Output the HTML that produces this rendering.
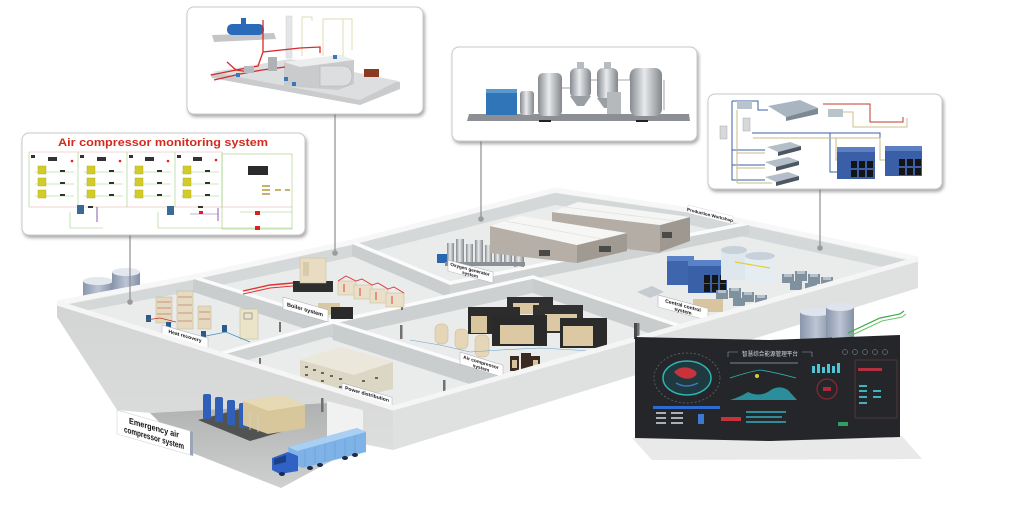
<!DOCTYPE html>
<html><head><meta charset="utf-8"><style>
html,body{margin:0;padding:0;background:#fff;}
svg{display:block;}
text{font-family:"Liberation Sans","Noto Sans CJK SC",sans-serif;}
</style></head><body>
<svg width="1024" height="522" viewBox="0 0 1024 522" xmlns="http://www.w3.org/2000/svg">
<defs>
 <filter id="sh" x="-5%" y="-8%" width="112%" height="125%">
  <feDropShadow dx="1.5" dy="2.5" stdDeviation="1.6" flood-color="#666" flood-opacity="0.55"/>
 </filter>
 <linearGradient id="pad" x1="0" y1="0" x2="0" y2="1"><stop offset="0" stop-color="#b0b1b1"/><stop offset="1" stop-color="#cfd0d0"/></linearGradient>
 <linearGradient id="silver" x1="0" x2="1"><stop offset="0" stop-color="#868b8f"/><stop offset="0.45" stop-color="#e8eaec"/><stop offset="1" stop-color="#82878b"/></linearGradient>
 <linearGradient id="tank" x1="0" x2="1"><stop offset="0" stop-color="#8995ab"/><stop offset="0.5" stop-color="#bcc5d4"/><stop offset="1" stop-color="#8491a6"/></linearGradient>
 <linearGradient id="ffl" x1="0" y1="0" x2="0" y2="1"><stop offset="0" stop-color="#d3d4d4"/><stop offset="1" stop-color="#dcdddd"/></linearGradient>
</defs>

<!-- tanks behind building (left) -->
<g>
 <rect x="83" y="281" width="30" height="16" fill="url(#tank)"/>
 <ellipse cx="98" cy="281" rx="15" ry="4" fill="#e3e7ee"/>
 <rect x="112" y="272" width="28" height="18" fill="url(#tank)"/>
 <ellipse cx="126" cy="272" rx="14" ry="4" fill="#e3e7ee"/>
</g>

<!-- building floor -->
<polygon points="57,303 193,277 352,242 555,190 690,210 918,259 680,326 393,408" fill="#eaecec"/>

<!-- back wall inner faces -->
<polygon points="60,306 193,280 352,245 555,193 555,205 352,257 193,291 62,315" fill="#d5d8d8"/>
<polygon points="555,193 690,213 915,262 910,273 690,225 555,205" fill="#d5d8d8"/>

<!-- partition faces -->
<polygon points="352,242 450,283 450,298 352,256" fill="#cacece"/>
<polygon points="450,283 749,223 749,235 450,296" fill="#d0d3d3"/>
<polygon points="193,277 333,321 333,338 193,292" fill="#c9cdcd"/>
<polygon points="333,322 533,277 533,293 333,338" fill="#cdd0d0"/>
<polygon points="533,277 680,326 680,344 533,293" fill="#c8cccc"/>
<polygon points="223,353 333,322 333,336 223,367" fill="#cfd2d2"/>
<polygon points="333,322 507,377 507,396 333,340" fill="#c9cdcd"/>

<!-- wall tops -->
<g stroke="#fbfbfb" stroke-width="3.5" stroke-linecap="round" fill="none">
 <line x1="352" y1="242" x2="450" y2="283"/>
 <line x1="450" y1="283" x2="749" y2="223"/>
 <line x1="193" y1="277" x2="333" y2="321"/>
 <line x1="333" y1="322" x2="533" y2="277"/>
 <line x1="533" y1="277" x2="680" y2="326"/>
 <line x1="223" y1="353" x2="333" y2="322"/>
 <line x1="333" y1="322" x2="507" y2="377"/>
</g>
<polyline points="57,303 193,277 352,242 555,190 690,210 918,259" fill="none" stroke="#f7f7f7" stroke-width="5" stroke-linejoin="round"/>

<!-- posts -->
<g fill="#6f7272">
 <rect x="279" y="322" width="2" height="10"/>
 <rect x="259" y="358" width="2" height="8"/>
 <rect x="400" y="325" width="2.5" height="14"/>
 <rect x="637" y="323" width="2.5" height="14"/>
 <rect x="443" y="380" width="2.5" height="13"/>
 <rect x="401" y="300" width="2" height="10"/>
</g>

<!-- Heat recovery equipment -->
<g>
 <rect x="156" y="297" width="16" height="26" fill="#e4d9bf" stroke="#c2b48f" stroke-width="0.5"/>
 <rect x="177" y="291" width="16" height="38" fill="#e6dbc1" stroke="#c2b48f" stroke-width="0.5"/>
 <rect x="198" y="306" width="13" height="23" fill="#e4d9bf" stroke="#c2b48f" stroke-width="0.5"/>
 <g stroke="#b8664f" stroke-width="0.6">
  <line x1="157" y1="302" x2="171" y2="302"/><line x1="157" y1="308" x2="171" y2="308"/><line x1="157" y1="314" x2="171" y2="314"/>
  <line x1="178" y1="297" x2="192" y2="297"/><line x1="178" y1="305" x2="192" y2="305"/><line x1="178" y1="313" x2="192" y2="313"/><line x1="178" y1="321" x2="192" y2="321"/>
  <line x1="199" y1="312" x2="210" y2="312"/><line x1="199" y1="319" x2="210" y2="319"/>
 </g>
 <rect x="240" y="309" width="18" height="30" fill="#ebe4c8" stroke="#c8bd98" stroke-width="0.6"/>
 <rect x="244" y="313" width="8" height="6" fill="none" stroke="#777" stroke-width="0.6"/>
 <g fill="#2c5a8a">
  <rect x="146" y="315" width="5" height="7"/><rect x="166" y="322" width="5" height="7"/>
  <rect x="201" y="331" width="5" height="6"/><rect x="222" y="325" width="5" height="7"/>
 </g>
 <polyline points="206,336 226,332 250,342" fill="none" stroke="#4a90c0" stroke-width="0.8"/>
 <polyline points="146,320 160,318 176,322" fill="none" stroke="#c0392b" stroke-width="0.8"/>
</g>

<!-- Boiler equipment -->
<g>
 <polyline points="243,291 270,285 293,283" fill="none" stroke="#d33" stroke-width="1.4"/>
 <polyline points="243,294 270,288 293,286" fill="none" stroke="#d33" stroke-width="1"/>
 <rect x="293" y="281" width="40" height="11" fill="#2e2e2e"/>
 <rect x="300" y="258" width="26" height="25" fill="#e8dcc3" stroke="#c7b996" stroke-width="0.5"/>
 <rect x="303" y="262" width="6" height="14" fill="#d8cba9"/>
 <g fill="#eadfc8" stroke="#c9b991" stroke-width="0.5">
  <rect x="338" y="281" width="18" height="14"/>
  <rect x="354" y="285" width="18" height="14"/>
  <rect x="370" y="289" width="18" height="14"/>
  <rect x="386" y="293" width="18" height="14"/>
 </g>
 <g stroke="#d33" stroke-width="0.9" fill="none">
  <polyline points="338,281 346,276 356,281 362,279 372,285 378,283 388,289 394,287 404,293"/>
  <line x1="344" y1="284" x2="344" y2="292"/><line x1="360" y1="288" x2="360" y2="296"/>
  <line x1="376" y1="292" x2="376" y2="300"/><line x1="392" y1="296" x2="392" y2="304"/>
 </g>
 <rect x="318" y="303" width="22" height="12" fill="#d8c9a5"/>
 <rect x="331" y="307" width="22" height="12" fill="#2b2b2b"/>
</g>

<!-- Oxygen generator equipment -->
<g>
 <rect x="437" y="254" width="10" height="9" fill="#2a66b0"/>
 <g fill="url(#silver)">
  <rect x="447" y="243" width="7" height="20"/><rect x="456" y="239" width="8" height="24"/>
  <rect x="466" y="244" width="7" height="20"/><rect x="475" y="240" width="8" height="24"/>
  <rect x="485" y="245" width="7" height="21"/><rect x="494" y="241" width="8" height="25"/>
  <rect x="504" y="247" width="8" height="19"/><rect x="514" y="250" width="10" height="17"/>
 </g>
 <rect x="445" y="262" width="80" height="4" fill="#8b9096"/>
</g>

<!-- Production workshop warehouses -->
<g>
 <polygon points="552,212 660,225 660,253 552,240" fill="#b3ada5"/>
 <polygon points="660,225 690,217 690,241 660,252" fill="#9e9891"/>
 <polygon points="552,212 578,202 690,217 660,225" fill="#f5f5f4"/>
 <line x1="565" y1="207" x2="675" y2="221" stroke="#e2e2e0" stroke-width="0.8"/>
 <rect x="662" y="232" width="10" height="6" fill="#4a4a48"/>
 <polygon points="490,226 577,245 577,263 490,253" fill="#b5afa7"/>
 <polygon points="577,245 627,233 627,251 577,263" fill="#a09a93"/>
 <polygon points="490,226 520,216 627,233 577,245" fill="#f6f6f5"/>
 <line x1="505" y1="221" x2="602" y2="239" stroke="#e2e2e0" stroke-width="0.8"/>
 <rect x="539" y="250" width="11" height="6" fill="#4a4a48"/>
 <rect x="599" y="246" width="12" height="6" fill="#4a4a48"/>
</g>

<!-- Central control equipment -->
<g>
 <polygon points="637,292 652,286 664,292 650,298" fill="#c5cbd0"/>
 <rect x="667" y="256" width="27" height="29" fill="#3e66ad"/>
 <rect x="667" y="256" width="27" height="5" fill="#5b82c6"/>
 <rect x="688" y="260" width="39" height="33" fill="#3a60a8"/>
 <rect x="688" y="260" width="39" height="6" fill="#5a82c8"/>
 <g fill="#151515">
  <rect x="704" y="275" width="6" height="8"/><rect x="712" y="275" width="6" height="8"/><rect x="720" y="275" width="6" height="8"/>
  <rect x="704" y="284" width="6" height="8"/><rect x="712" y="284" width="6" height="8"/><rect x="720" y="284" width="6" height="8"/>
 </g>
 <rect x="721" y="250" width="26" height="30" fill="#dfe7ee"/>
 <rect x="745" y="256" width="30" height="27" fill="#e6edf2"/>
 <ellipse cx="734" cy="250" rx="13" ry="4" fill="#c6d1da"/>
 <ellipse cx="760" cy="256" rx="15" ry="4" fill="#c6d1da"/>
 <line x1="735" y1="262" x2="770" y2="268" stroke="#e0d030" stroke-width="1.2"/>
 <g fill="#7f909e">
  <rect x="782" y="274" width="12" height="9"/><rect x="795" y="271" width="12" height="10"/><rect x="808" y="274" width="12" height="10"/>
  <rect x="821" y="277" width="12" height="10"/><rect x="790" y="281" width="12" height="9"/><rect x="805" y="283" width="12" height="8"/>
  <rect x="716" y="290" width="12" height="9"/><rect x="729" y="288" width="12" height="10"/><rect x="742" y="292" width="12" height="10"/>
  <rect x="755" y="295" width="12" height="9"/><rect x="733" y="298" width="12" height="8"/>
 </g>
 <g fill="#b5c2cc">
  <rect x="784" y="274" width="8" height="3"/><rect x="797" y="271" width="8" height="3"/><rect x="810" y="274" width="8" height="3"/><rect x="823" y="277" width="8" height="3"/>
  <rect x="718" y="290" width="8" height="3"/><rect x="731" y="288" width="8" height="3"/><rect x="744" y="292" width="8" height="3"/><rect x="757" y="295" width="8" height="3"/>
 </g>
 <rect x="693" y="299" width="30" height="13" fill="#d8c59f"/>
</g>

<!-- Air compressor equipment -->
<g>
 <rect x="507" y="297" width="46" height="17" fill="#2f2f2f"/><rect x="513" y="303" width="26" height="11" fill="#dac7a1"/>
 <rect x="533" y="305" width="50" height="28" fill="#303030"/><rect x="545" y="314" width="32" height="17" fill="#dcc9a3"/>
 <rect x="468" y="307" width="52" height="27" fill="#2c2c2c"/><rect x="471" y="316" width="16" height="17" fill="#d9c69f"/>
 <rect x="492" y="315" width="55" height="31" fill="#2a2a2a"/><rect x="500" y="325" width="34" height="19" fill="#dcc9a3"/>
 <rect x="560" y="318" width="47" height="30" fill="#2b2b2b"/><rect x="563" y="326" width="30" height="20" fill="#dcc9a3"/>
 <g fill="#e6d6b8" stroke="#c9b48c" stroke-width="0.5">
  <rect x="435" y="324" width="13" height="20" rx="5"/>
  <rect x="455" y="329" width="13" height="20" rx="5"/>
  <rect x="475" y="335" width="14" height="22" rx="5"/>
 </g>
 <g fill="#3a2a22">
  <rect x="510" y="356" width="9" height="15"/><rect x="521" y="353" width="10" height="16"/><rect x="531" y="356" width="9" height="14"/>
 </g>
 <rect x="512" y="360" width="5" height="8" fill="#d6c39c"/><rect x="533" y="360" width="5" height="8" fill="#d6c39c"/>
 <polyline points="410,340 440,345 470,352 500,350 540,348 610,352" fill="none" stroke="#6aa0c8" stroke-width="0.6"/>
</g>

<!-- Power distribution cabinets -->
<g>
 <polygon points="300,360 340,347 393,362 393,389 352,399 300,381" fill="#dcd6c5"/>
 <polygon points="300,360 340,347 393,362 354,375" fill="#ebe7db"/>
 <g fill="#6b665c">
  <rect x="305" y="366" width="3" height="2"/><rect x="313" y="369" width="3" height="2"/><rect x="321" y="372" width="3" height="2"/>
  <rect x="330" y="375" width="3" height="2"/><rect x="339" y="378" width="3" height="2"/><rect x="305" y="374" width="3" height="2"/>
  <rect x="321" y="380" width="3" height="2"/><rect x="339" y="386" width="3" height="2"/><rect x="362" y="380" width="3" height="2"/>
  <rect x="375" y="377" width="3" height="2"/>
 </g>
 <line x1="300" y1="383" x2="340" y2="397" stroke="#6aa0c8" stroke-width="0.6"/>
</g>

<!-- room labels -->
<g font-weight="bold" fill="#111" text-anchor="middle">
 <g transform="translate(162,325) skewY(16)">
  <rect width="46" height="14" fill="#fff" stroke="#aab" stroke-width="0.5"/>
  <text x="23" y="6" font-size="5">Heat recovery</text><text x="23" y="12" font-size="5">system</text>
 </g>
 <g transform="translate(283,297) skewY(16)">
  <rect width="45" height="12" fill="#fff" stroke="#aab" stroke-width="0.5"/>
  <text x="22" y="8" font-size="5.5">Boiler system</text>
 </g>
 <g transform="translate(448,260) skewY(15)">
  <rect width="45" height="11" fill="#fff" stroke="#aab" stroke-width="0.5"/>
  <text x="22" y="5" font-size="4.6">Oxygen generator</text><text x="22" y="10" font-size="4.6">system</text>
 </g>
 <g transform="translate(688,205) skewY(14)">
  <rect width="45" height="8" fill="#fff" stroke="#ccd" stroke-width="0.4"/>
  <text x="22" y="6" font-size="4.4">Production Workshop</text>
 </g>
 <g transform="translate(658,295) skewY(15)">
  <rect width="50" height="12" fill="#fff" stroke="#aab" stroke-width="0.5"/>
  <text x="25" y="5.5" font-size="5">Central control</text><text x="25" y="11" font-size="5">system</text>
 </g>
 <g transform="translate(460,352) skewY(17)">
  <rect width="43" height="12" fill="#fff" stroke="#aab" stroke-width="0.5"/>
  <text x="21" y="5.5" font-size="4.8">Air compressor</text><text x="21" y="11" font-size="4.8">system</text>
 </g>
 <g transform="translate(342,383) skewY(16)">
  <rect width="50" height="12" fill="#fff" stroke="#aab" stroke-width="0.5"/>
  <text x="25" y="5.5" font-size="5">Power distribution</text><text x="25" y="11" font-size="5">system</text>
 </g>
</g>

<!-- outer front faces -->
<polygon points="393,408 918,259 918,288 393,450" fill="#dfe0e0"/>
<polygon points="57,303 393,408 393,450 363,444 327,437 327,403 150,413 117,410 57,317" fill="url(#ffl)"/>
<polyline points="57,303 393,408 918,259" fill="none" stroke="#f5f5f5" stroke-width="5" stroke-linejoin="round"/>
<!-- bay -->
<polygon points="327,401 363,410 363,444 327,437" fill="#f1f1f1"/>
<polygon points="150,413 327,403 327,437 363,444 281,488 190,452" fill="url(#pad)"/>
<rect x="321" y="398" width="2.5" height="14" fill="#6f7272"/>

<!-- emergency unit -->
<g>
 <polygon points="198,420 255,405 305,425 250,441" fill="#515353"/>
 <g fill="#2f5fb8">
  <rect x="203" y="394" width="8" height="25" rx="2"/><rect x="215" y="397" width="8" height="25" rx="2"/>
  <rect x="227" y="400" width="8" height="25" rx="2"/><rect x="239" y="403" width="8" height="25" rx="2"/>
 </g>
 <polygon points="243,401 282,395 305,405 305,428 268,434 243,425" fill="#d8c79a"/>
 <polygon points="243,401 282,395 305,405 268,411" fill="#e6d9b4"/>
 <g stroke="#cfd3d6" stroke-width="0.8"><line x1="250" y1="412" x2="250" y2="430"/><line x1="258" y1="414" x2="258" y2="432"/></g>
</g>

<!-- truck -->
<g>
 <polygon points="288,447 357,428 366,432 366,452 303,468 290,463" fill="#7fb3e8"/>
 <polygon points="288,447 357,428 366,432 297,451" fill="#a9cff2"/>
 <g stroke="#5e95d0" stroke-width="0.5">
  <line x1="305" y1="450" x2="305" y2="466"/><line x1="315" y1="447" x2="315" y2="463"/><line x1="325" y1="444" x2="325" y2="461"/>
  <line x1="335" y1="442" x2="335" y2="458"/><line x1="345" y1="439" x2="345" y2="456"/><line x1="355" y1="436" x2="355" y2="453"/>
 </g>
 <polygon points="272,458 288,452 298,456 298,471 280,474 272,470" fill="#2f62c4"/>
 <polygon points="274,459 286,455 286,462 274,465" fill="#1d3f85"/>
 <g fill="#1d2a4a">
  <ellipse cx="282" cy="474" rx="3" ry="2"/><ellipse cx="310" cy="468" rx="3" ry="2"/><ellipse cx="320" cy="465" rx="3" ry="2"/>
  <ellipse cx="345" cy="458" rx="3" ry="2"/><ellipse cx="355" cy="455" rx="3" ry="2"/>
 </g>
</g>

<!-- Emergency label -->
<g transform="translate(117,410) skewY(16)" font-weight="bold" fill="#111" text-anchor="middle">
 <rect width="76" height="24" fill="#fff" stroke="#c4c8cc" stroke-width="0.5"/>
 <rect x="73" y="0" width="3" height="24" fill="#9aa6b6"/>
 <text x="37" y="10" font-size="8.5" textLength="50" lengthAdjust="spacingAndGlyphs">Emergency air</text>
 <text x="37" y="20" font-size="8.5" textLength="60" lengthAdjust="spacingAndGlyphs">compressor system</text>
</g>

<!-- tanks near screen + green pipe -->
<g>
 <rect x="800" y="312" width="32" height="34" fill="url(#tank)"/>
 <ellipse cx="816" cy="312" rx="16" ry="4" fill="#dfe4ec"/>
 <rect x="826" y="307" width="28" height="30" fill="url(#tank)"/>
 <ellipse cx="840" cy="307" rx="14" ry="4" fill="#dfe4ec"/>
 <polyline points="848,333 880,318 900,314 904,311" fill="none" stroke="#3aa845" stroke-width="1.2"/>
 <polyline points="850,336 882,321 902,317 906,314" fill="none" stroke="#6cc36f" stroke-width="1"/>
</g>

<!-- screen -->
<polygon points="632,438 902,436 922,459 652,460" fill="#e9e9e9"/>
<rect x="634" y="323" width="3" height="16" fill="#4a4a4a"/>
<g>
 <polygon points="635,337 770,340 900,335 900,437 770,441 635,438" fill="#25262a"/>
 <text x="770" y="356" font-size="6" fill="#d2d9de" text-anchor="middle" textLength="56" lengthAdjust="spacingAndGlyphs">智慧综合能源管理平台</text>
 <path d="M728 352 h10 M802 352 h10 M728 352 v5 M812 352 v5" stroke="#8fa0ac" stroke-width="0.6" fill="none"/>
 <g fill="none" stroke="#8f9ba6" stroke-width="0.5"><circle cx="845" cy="352" r="2.5"/><circle cx="855" cy="352" r="2.5"/><circle cx="865" cy="352" r="2.5"/><circle cx="875" cy="352" r="2.5"/><circle cx="885" cy="352" r="2.5"/></g>
 <ellipse cx="687" cy="378" rx="33" ry="25" fill="none" stroke="#5d6670" stroke-width="0.8" stroke-dasharray="2 2"/>
 <ellipse cx="687" cy="378" rx="24" ry="17" fill="#1e3a40" stroke="#2fb3b0" stroke-width="1.5"/>
 <path d="M674 372 q8 -8 20 -2 q6 4 -2 8 q-10 3 -18 -6z" fill="#c8323a"/>
 <path d="M676 383 q10 6 22 0" fill="none" stroke="#3b78c0" stroke-width="1.5"/>
 <rect x="730" y="362" width="68" height="2" fill="#50585f"/>
 <path d="M730 378 q18 -6 30 -8 q14 2 36 8" fill="none" stroke="#2fb3b0" stroke-width="0.8"/>
 <circle cx="757" cy="376" r="2" fill="#d6d22a"/>
 <path d="M730 400 q10 -3 18 -8 q10 5 20 0 q10 -8 20 -2 l9 10z" fill="#2a8f9a"/>
 <g fill="#4fc4d4"><rect x="812" y="366" width="3" height="7"/><rect x="817" y="364" width="3" height="9"/><rect x="822" y="367" width="3" height="6"/><rect x="827" y="364" width="3" height="9"/><rect x="832" y="366" width="3" height="7"/><rect x="837" y="363" width="3" height="10"/></g>
 <circle cx="827" cy="389" r="10" fill="none" stroke="#8a2a30" stroke-width="1.2"/>
 <rect x="823" y="387" width="8" height="4" fill="#b0283a"/>
 <rect x="855" y="360" width="42" height="58" fill="none" stroke="#6a4040" stroke-width="0.6"/>
 <rect x="858" y="368" width="24" height="3" fill="#b03040"/>
 <g fill="#3fb3c0"><rect x="859" y="385" width="8" height="2"/><rect x="859" y="390" width="8" height="2"/><rect x="873" y="390" width="8" height="2"/><rect x="859" y="396" width="8" height="2"/><rect x="873" y="396" width="8" height="2"/><rect x="859" y="402" width="8" height="2"/></g>
 <rect x="653" y="406" width="67" height="3" fill="#2f6ad0"/>
 <g fill="#a9b0b6"><rect x="656" y="412" width="10" height="2"/><rect x="671" y="412" width="12" height="2"/><rect x="656" y="417" width="10" height="2"/><rect x="671" y="417" width="12" height="2"/><rect x="656" y="422" width="10" height="2"/><rect x="671" y="422" width="12" height="2"/></g>
 <rect x="698" y="414" width="6" height="10" fill="#3a7ad0"/>
 <rect x="721" y="417" width="20" height="4" fill="#c8323a"/>
 <g fill="#2f8a9a"><rect x="746" y="411" width="40" height="2"/><rect x="746" y="416" width="36" height="2"/><rect x="746" y="421" width="40" height="2"/></g>
 <rect x="838" y="422" width="10" height="4" fill="#2fa060"/>
</g>

<!-- connectors -->
<g stroke="#8e8e8e" stroke-width="1.2">
 <line x1="130" y1="235" x2="130" y2="302"/>
 <line x1="335" y1="114" x2="335" y2="252"/>
 <line x1="481" y1="141" x2="481" y2="219"/>
 <line x1="820" y1="189" x2="820" y2="248"/>
</g>
<g fill="#9b9b9b">
 <circle cx="130" cy="302" r="2.8"/><circle cx="335" cy="253" r="2.8"/><circle cx="481" cy="219" r="2.8"/><circle cx="820" cy="248" r="2.8"/>
</g>

<!-- Callout 1: Air compressor monitoring -->
<g>
 <rect x="22" y="133" width="283" height="102" rx="7" fill="#fff" stroke="#c8c8c8" stroke-width="1" filter="url(#sh)"/>
 <text x="163" y="146" font-size="11" font-weight="bold" fill="#d42a1e" text-anchor="middle" textLength="210" lengthAdjust="spacingAndGlyphs">Air compressor monitoring system</text>
 <g fill="none" stroke-width="0.6">
  <line x1="29" y1="152" x2="222" y2="152" stroke="#e3b6b0"/>
  <g stroke="#9bcf7a">
   <line x1="29" y1="152" x2="29" y2="207"/><line x1="78" y1="152" x2="78" y2="207"/><line x1="127" y1="152" x2="127" y2="207"/><line x1="175" y1="152" x2="175" y2="207"/><line x1="222" y1="152" x2="222" y2="207"/>
   <rect x="222" y="154" width="70" height="75"/>
   <line x1="70" y1="228" x2="103" y2="228"/><line x1="158" y1="228" x2="292" y2="228"/>
   <line x1="70" y1="212" x2="70" y2="228"/><line x1="158" y1="212" x2="158" y2="228"/>
   <line x1="35" y1="172" x2="74" y2="172"/><line x1="35" y1="184" x2="74" y2="184"/><line x1="35" y1="196" x2="74" y2="196"/>
   <line x1="84" y1="172" x2="123" y2="172"/><line x1="84" y1="184" x2="123" y2="184"/><line x1="84" y1="196" x2="123" y2="196"/>
   <line x1="133" y1="172" x2="171" y2="172"/><line x1="133" y1="184" x2="171" y2="184"/><line x1="133" y1="196" x2="171" y2="196"/>
   <line x1="181" y1="172" x2="219" y2="172"/><line x1="181" y1="184" x2="219" y2="184"/><line x1="181" y1="196" x2="219" y2="196"/>
   <line x1="240" y1="212" x2="292" y2="212"/>
  </g>
  <line x1="29" y1="207" x2="292" y2="207" stroke="#e3a2a0"/>
  <line x1="97" y1="207" x2="97" y2="222" stroke="#8a5bb0" stroke-width="1"/>
  <line x1="218" y1="208" x2="218" y2="221" stroke="#8a5bb0" stroke-width="1"/>
  <line x1="190" y1="214" x2="218" y2="214" stroke="#8a5bb0"/>
 </g>
 <g fill="#d2cc28" stroke="#a8a21a" stroke-width="0.4">
  <rect x="38" y="166" width="8" height="8"/><rect x="38" y="178" width="8" height="8"/><rect x="38" y="190" width="8" height="8"/>
  <rect x="87" y="166" width="8" height="8"/><rect x="87" y="178" width="8" height="8"/><rect x="87" y="190" width="8" height="8"/>
  <rect x="135" y="166" width="8" height="8"/><rect x="135" y="178" width="8" height="8"/><rect x="135" y="190" width="8" height="8"/>
  <rect x="183" y="166" width="8" height="8"/><rect x="183" y="178" width="8" height="8"/><rect x="183" y="190" width="8" height="8"/>
 </g>
 <g fill="#333">
  <rect x="48" y="157" width="9" height="4"/><rect x="97" y="157" width="9" height="4"/><rect x="145" y="157" width="9" height="4"/><rect x="193" y="157" width="9" height="4"/>
  <rect x="31" y="155" width="4" height="3"/><rect x="80" y="155" width="4" height="3"/><rect x="129" y="155" width="4" height="3"/><rect x="177" y="155" width="4" height="3"/>
  <rect x="60" y="170" width="5" height="2"/><rect x="60" y="182" width="5" height="2"/><rect x="60" y="194" width="5" height="2"/>
  <rect x="109" y="170" width="5" height="2"/><rect x="109" y="182" width="5" height="2"/><rect x="109" y="194" width="5" height="2"/>
  <rect x="157" y="170" width="5" height="2"/><rect x="157" y="182" width="5" height="2"/><rect x="157" y="194" width="5" height="2"/>
  <rect x="205" y="170" width="5" height="2"/><rect x="205" y="182" width="5" height="2"/><rect x="205" y="194" width="5" height="2"/>
  <rect x="248" y="166" width="20" height="9" fill="#2b2b2b"/>
  <rect x="88" y="206" width="5" height="2"/><rect x="198" y="206" width="5" height="2"/>
 </g>
 <g fill="#e02020"><circle cx="72" cy="161" r="1.3"/><circle cx="120" cy="161" r="1.3"/><circle cx="168" cy="161" r="1.3"/><circle cx="216" cy="160" r="1.3"/><rect x="199" y="211" width="4" height="3"/><rect x="255" y="211" width="5" height="4"/><rect x="255" y="226" width="5" height="4"/></g>
 <g fill="#c8b26a"><rect x="262" y="185" width="8" height="2"/><rect x="262" y="189" width="8" height="2"/><rect x="262" y="193" width="8" height="2"/><rect x="275" y="189" width="6" height="2"/><rect x="285" y="189" width="5" height="2"/></g>
 <rect x="77" y="205" width="7" height="9" fill="#3a6a9a"/>
 <rect x="167" y="206" width="7" height="9" fill="#3a6a9a"/>
</g>

<!-- Callout 2: Boiler -->
<g>
 <rect x="187" y="7" width="236" height="107" rx="7" fill="#fff" stroke="#c8c8c8" stroke-width="1" filter="url(#sh)"/>
 <polygon points="210,74 290,60 400,82 400,89 360,105 212,78" fill="#c9cbcc"/>
 <polygon points="212,72 290,59 398,81 360,100" fill="#dcdedf"/>
 <polygon points="212,35 274,33 276,39 214,42" fill="#c3c5c7"/>
 <rect x="227" y="24" width="37" height="11" rx="5" fill="#2a6ab8"/>
 <rect x="241" y="18" width="5" height="7" fill="#2a6ab8"/>
 <rect x="286" y="16" width="6" height="42" fill="#e3e5e7" stroke="#c8cacc" stroke-width="0.4"/>
 <g fill="none" stroke="#d9d3a0" stroke-width="0.8">
  <polyline points="302,56 302,17 312,17 312,21"/><polyline points="323,56 323,19 352,19 352,50"/><polyline points="343,19 343,56"/>
 </g>
 <polygon points="284,62 340,55 354,60 354,84 338,90 284,86" fill="#c9cbcc"/>
 <polygon points="284,62 340,55 354,60 300,67" fill="#eceeee"/>
 <path d="M320 66 h22 q10 0 10 10 q0 10 -10 10 h-22z" fill="#dcdedf" stroke="#b0b3b5" stroke-width="0.6"/>
 <rect x="364" y="69" width="15" height="8" fill="#8a3a22"/>
 <g fill="none" stroke="#d82a2a" stroke-width="1.3">
  <polyline points="211,75 236,70 258,66 263,52 300,48 320,47 320,53"/>
  <polyline points="214,80 240,74 262,70 285,67"/>
  <polyline points="227,62 236,70 250,72"/>
  <line x1="263" y1="20" x2="263" y2="52"/>
 </g>
 <rect x="268" y="57" width="9" height="14" fill="#aeb2b5"/>
 <rect x="244" y="66" width="10" height="7" fill="#b6babd"/>
 <g fill="#3a78b8"><rect x="236" y="73" width="4" height="4"/><rect x="284" y="77" width="4" height="4"/><rect x="292" y="82" width="4" height="4"/><rect x="333" y="55" width="4" height="4"/></g>
</g>

<!-- Callout 3: Oxygen generator -->
<g>
 <rect x="452" y="47" width="245" height="94" rx="7" fill="#fff" stroke="#c8c8c8" stroke-width="1" filter="url(#sh)"/>
 <polygon points="469,114 689,114 690,121 467,121" fill="#8c9094"/>
 <rect x="539" y="120" width="12" height="2" fill="#222"/><rect x="636" y="120" width="12" height="2" fill="#222"/>
 <rect x="486" y="89" width="31" height="26" fill="#2f75b8"/>
 <rect x="486" y="89" width="31" height="4" fill="#5a98d0"/>
 <rect x="520" y="91" width="14" height="24" rx="3" fill="url(#silver)"/>
 <rect x="538" y="73" width="24" height="43" rx="5" fill="url(#silver)"/>
 <rect x="570" y="68" width="21" height="30" rx="6" fill="url(#silver)"/>
 <polygon points="570,96 591,96 584,106 577,106" fill="#9a9fa3"/>
 <rect x="577" y="62" width="7" height="7" fill="#b8bcc0"/>
 <rect x="597" y="68" width="21" height="32" rx="6" fill="url(#silver)"/>
 <polygon points="597,98 618,98 611,108 604,108" fill="#9a9fa3"/>
 <rect x="604" y="62" width="7" height="7" fill="#b8bcc0"/>
 <rect x="607" y="92" width="14" height="22" fill="#b5b9bc"/>
 <rect x="630" y="68" width="32" height="48" rx="7" fill="url(#silver)"/>
 <g stroke="#888" stroke-width="0.8" fill="none"><polyline points="562,88 570,88"/><polyline points="591,80 597,80"/><polyline points="618,80 630,80 630,75"/><line x1="664" y1="80" x2="664" y2="110"/></g>
</g>

<!-- Callout 4: Central control -->
<g>
 <rect x="708" y="94" width="234" height="95" rx="7" fill="#fff" stroke="#c8c8c8" stroke-width="1" filter="url(#sh)"/>
 <g fill="none" stroke-width="1">
  <polyline points="823,104 870,104 870,122 903,122 903,117" stroke="#c0392b"/>
  <polyline points="830,112 853,112 853,127 907,127 907,118" stroke="#cdbf8a"/>
  <g stroke="#3b5fa4">
   <polyline points="732,101 732,180 765,180"/><line x1="732" y1="165" x2="765" y2="165"/><line x1="732" y1="150" x2="765" y2="150"/>
   <polyline points="732,101 758,101 758,110 768,110"/>
   <polyline points="752,133 830,133 830,172 840,172"/>
   <polyline points="830,133 880,133 880,150"/>
  </g>
  <g stroke="#c7bb86">
   <polyline points="737,183 772,183"/><line x1="737" y1="168" x2="765" y2="168"/><line x1="737" y1="153" x2="765" y2="153"/>
   <polyline points="737,110 737,183"/><polyline points="753,138 880,138 880,160 890,160"/><polyline points="836,138 836,160 845,160"/>
  </g>
 </g>
 <rect x="720" y="126" width="7" height="13" fill="#d6d9dc" stroke="#999" stroke-width="0.4"/>
 <rect x="743" y="118" width="7" height="13" fill="#d6d9dc" stroke="#999" stroke-width="0.4"/>
 <rect x="737" y="101" width="15" height="8" fill="#b9c3cc"/>
 <polygon points="768,106 800,100 818,108 786,117" fill="#a9b6c2"/>
 <polygon points="786,117 818,108 818,114 786,121" fill="#7d8a95"/>
 <rect x="828" y="109" width="15" height="8" fill="#b9c3cc"/>
 <g fill="#b4bec8"><polygon points="767,147 790,142 801,146 778,152"/><polygon points="765,162 788,157 799,161 776,167"/><polygon points="765,177 788,172 799,176 776,182"/></g>
 <g fill="#4d5762"><polygon points="778,152 801,146 801,150 778,156"/><polygon points="776,167 799,161 799,165 776,171"/><polygon points="776,182 799,176 799,180 776,186"/></g>
 <rect x="837" y="147" width="38" height="32" fill="#3a5fa6"/>
 <rect x="837" y="147" width="38" height="5" fill="#5b7fc2"/>
 <rect x="885" y="146" width="37" height="30" fill="#3a5fa6"/>
 <rect x="885" y="146" width="37" height="5" fill="#5b7fc2"/>
 <g fill="#141414">
  <rect x="851" y="161" width="6" height="7"/><rect x="859" y="161" width="6" height="7"/><rect x="867" y="161" width="6" height="7"/>
  <rect x="851" y="170" width="6" height="7"/><rect x="859" y="170" width="6" height="7"/><rect x="867" y="170" width="6" height="7"/>
  <rect x="899" y="159" width="6" height="7"/><rect x="907" y="159" width="6" height="7"/><rect x="915" y="159" width="6" height="7"/>
  <rect x="899" y="168" width="6" height="7"/><rect x="907" y="168" width="6" height="7"/><rect x="915" y="168" width="6" height="7"/>
 </g>
</g>
</svg>
</body></html>
